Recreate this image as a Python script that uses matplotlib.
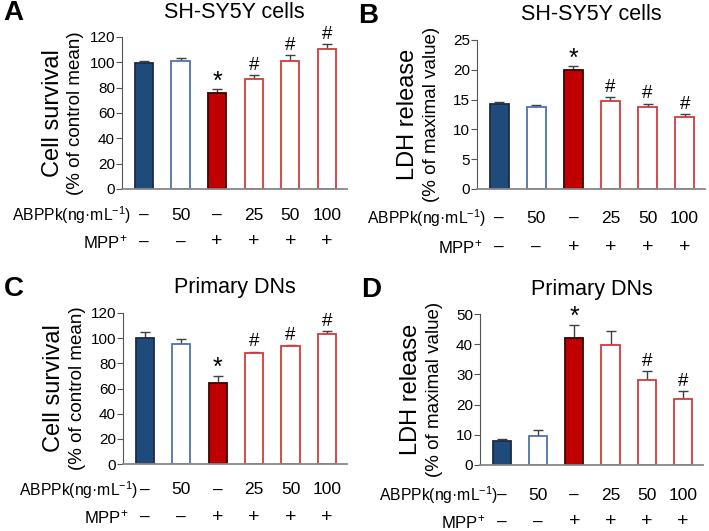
import numpy as np
import matplotlib
matplotlib.use('Agg')
import matplotlib.pyplot as plt
from matplotlib.transforms import blended_transform_factory

plt.rcParams['font.family'] = ['Liberation Sans', 'DejaVu Sans']
plt.rcParams['mathtext.fontset'] = 'custom'
plt.rcParams['mathtext.rm'] = 'Liberation Sans'
plt.rcParams['mathtext.it'] = 'Liberation Sans:italic'
plt.rcParams['mathtext.bf'] = 'Liberation Sans:bold'

# data
abppk = ['–', '50', '–', '25', '50', '100']
mpp = ['–', '–', '+', '+', '+', '+']

surv_sh = [99.8, 101.0, 75.6, 86.7, 101.0, 110.6]
surv_sh_err = [1.0, 2.5, 3.0, 3.2, 4.6, 3.6]
ldh_sh = [14.3, 13.7, 19.9, 14.8, 13.8, 12.1]
ldh_sh_err = [0.35, 0.4, 0.7, 0.6, 0.5, 0.4]
surv_dn = [100.0, 95.2, 64.3, 88.0, 93.4, 103.4]
surv_dn_err = [5.0, 4.0, 6.0, 1.4, 1.1, 2.0]
ldh_dn = [8.1, 9.6, 42.2, 39.7, 28.0, 21.8]
ldh_dn_err = [0.4, 2.1, 4.2, 4.8, 3.0, 2.6]

sig_sh = ['', '', '*', '#', '#', '#']
sig_dn_ldh = ['', '', '*', '', '#', '#']

faces = ['#1f4a7c', 'white', '#c00000', 'white', 'white', 'white']
edges = ['#1c2c44', '#4f74a8', '#3a0000', '#d43a3a', '#d43a3a', '#d43a3a']

W, H = 709, 531
fig = plt.figure(figsize=(W / 100, H / 100), dpi=100)


def panel(px, letter, title, vals, errs, sig, ymax, ystep, ylab1, ylab2,
          row_y, lab_off):
    left, right, bottom, top = px
    ax = fig.add_axes([left / W, 1 - bottom / H, (right - left) / W, (bottom - top) / H])
    x = np.arange(6)
    ax.bar(x, vals, width=0.5, color=faces, edgecolor=edges, linewidth=1.3, zorder=2)
    ax.errorbar(x, vals, yerr=[np.zeros(6), errs], fmt='none', ecolor='#404040',
                elinewidth=1.0, capsize=3.5, capthick=1.0, zorder=1)
    for xi, v, e, s in zip(x, vals, errs, sig):
        if s:
            ax.annotate(s, (xi, v + e), xytext=(0, 1 if s == '#' else -3),
                        textcoords='offset points', ha='center', va='bottom',
                        fontsize=13.5 if s == '#' else 18)
    ax.set_xlim(-0.6, 5.55)
    ax.set_ylim(0, ymax)
    ax.set_yticks(np.arange(0, ymax + 0.01, ystep))
    ax.set_xticks([])
    for s in ['top', 'right']:
        ax.spines[s].set_visible(False)
    ax.spines['left'].set_color('#555555')
    ax.spines['bottom'].set_color('#888888')
    ax.spines['bottom'].set_linewidth(1.3)
    ax.tick_params(axis='y', length=4, width=0.8, color='#555555', labelsize=11, pad=1)
    fig.text((left + right) / 2 / W, 1 - (top - 25) / H, title, fontsize=15.5,
             ha='center', va='center')
    fig.text((left - 119) / W, 1 - (top - 24) / H, letter, fontsize=20,
             fontweight='bold', ha='left', va='center')
    ymid = 1 - (bottom + top) / 2 / H
    fig.text((left - 69) / W, ymid, ylab1, rotation=90, fontsize=17,
             ha='center', va='center')
    fig.text((left - 46) / W, ymid, ylab2, rotation=90, fontsize=13.5,
             ha='center', va='center')
    tr = blended_transform_factory(ax.transData, fig.transFigure)
    for row, yy in zip([abppk, mpp], row_y):
        for xi, t in zip(x, row):
            ax.text(xi, 1 - yy / H, t, transform=tr, ha='center', va='center',
                    fontsize=12.5 if t != '+' else 14, clip_on=False)
    ax.text(lab_off, 1 - row_y[0] / H, 'ABPPk(ng·mL$^{-1}$)', transform=tr,
            ha='right', va='center', fontsize=11.3)
    ax.text(-0.45, 1 - row_y[1] / H, 'MPP$^{+}$', transform=tr,
            ha='right', va='center', fontsize=12)
    return ax


panel((122, 347, 189, 37), 'A', 'SH-SY5Y cells', surv_sh, surv_sh_err, sig_sh,
      120, 20, 'Cell survival', '(% of control mean)', (215, 242), -0.35)
panel((477, 705, 189, 40), 'B', 'SH-SY5Y cells', ldh_sh, ldh_sh_err, sig_sh,
      25, 5, 'LDH release', '(% of maximal value)', (218, 247), -0.35)
panel((123, 347, 464, 313), 'C', 'Primary DNs', surv_dn, surv_dn_err, sig_sh,
      120, 20, 'Cell survival', '(% of control mean)', (490, 517), -0.17)
panel((480, 703, 465, 314), 'D', 'Primary DNs', ldh_dn, ldh_dn_err, sig_dn_ldh,
      50, 10, 'LDH release', '(% of maximal value)', (495, 522), -0.1)

fig.savefig('out.png', dpi=100)
